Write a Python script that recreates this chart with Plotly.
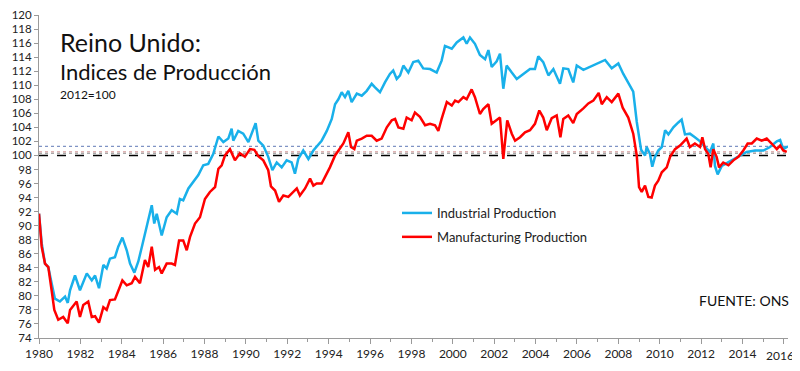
import plotly.graph_objects as go

# Industrial Production (2012=100) (decimal years)
ind_years = [1980.0, 1980.13, 1980.29, 1980.45, 1980.61, 1980.77, 1981.01, 1981.26, 1981.39, 1981.5,
             1981.74, 1981.98, 1982.31, 1982.55, 1982.71, 1982.9, 1983.11, 1983.27, 1983.43, 1983.67,
             1983.83, 1984.03, 1984.24, 1984.4, 1984.61, 1984.8, 1984.99, 1985.21, 1985.45, 1985.57,
             1985.69, 1985.93, 1986.17, 1986.41, 1986.66, 1986.81, 1986.97, 1987.22, 1987.46, 1987.7,
             1987.94, 1988.18, 1988.42, 1988.59, 1988.67, 1988.91, 1989.15, 1989.31, 1989.39, 1989.63,
             1989.87, 1990.12, 1990.31, 1990.47, 1990.6, 1990.84, 1991.08, 1991.28, 1991.49, 1991.73,
             1991.97, 1992.21, 1992.37, 1992.53, 1992.77, 1993.02, 1993.26, 1993.42, 1993.66, 1993.91,
             1994.15, 1994.31, 1994.47, 1994.63, 1994.79, 1994.95, 1995.11, 1995.36, 1995.6, 1995.84,
             1996.08, 1996.24, 1996.48, 1996.72, 1996.96, 1997.12, 1997.29, 1997.45, 1997.61, 1997.85,
             1998.09, 1998.33, 1998.57, 1998.9, 1999.22, 1999.46, 1999.62, 1999.95, 2000.19, 2000.51,
             2000.67, 2000.83, 2001.07, 2001.31, 2001.56, 2001.72, 2001.88, 2002.12, 2002.28, 2002.44,
             2002.6, 2002.85, 2003.09, 2003.41, 2003.73, 2003.97, 2004.13, 2004.37, 2004.62, 2004.86,
             2005.18, 2005.34, 2005.58, 2005.82, 2005.99, 2006.31, 2006.63, 2006.95, 2007.36, 2007.68,
             2008.0, 2008.24, 2008.56, 2008.72, 2008.89, 2009.1, 2009.29, 2009.37, 2009.53, 2009.64,
             2009.77, 2009.93, 2010.1, 2010.26, 2010.42, 2010.66, 2010.9, 2011.06, 2011.22, 2011.46,
             2011.7, 2011.95, 2012.19, 2012.43, 2012.59, 2012.67, 2012.8, 2013.0, 2013.24, 2013.56,
             2013.88, 2014.2, 2014.61, 2015.01, 2015.33, 2015.66, 2015.82, 2015.97, 2016.2]
ind_values = [91.7, 87.5, 84.6, 84.1, 81.8, 79.6, 79.2, 79.9, 79.0, 80.8,
              82.9, 80.8, 83.2, 82.2, 82.9, 81.1, 84.4, 83.9, 85.3, 85.5,
              87.0, 88.3, 86.5, 84.6, 83.3, 84.9, 87.2, 89.8, 92.9, 90.3,
              91.7, 88.6, 91.2, 92.2, 91.7, 93.8, 93.6, 95.3, 96.2, 97.2,
              98.6, 98.8, 100.2, 102.1, 102.7, 101.9, 102.4, 103.8, 102.1, 103.5,
              103.1, 101.9, 103.5, 104.6, 102.1, 101.4, 99.8, 97.9, 99.0, 98.3,
              99.3, 99.0, 97.4, 99.5, 100.7, 99.5, 100.7, 101.2, 102.1, 103.5,
              105.2, 107.3, 108.0, 109.0, 108.3, 109.2, 107.6, 108.8, 108.5, 109.2,
              110.2, 109.7, 109.0, 110.4, 111.6, 112.1, 110.9, 111.4, 112.8, 111.8,
              113.3, 113.5, 112.4, 112.3, 111.8, 113.5, 115.6, 115.2, 116.1, 116.8,
              115.9, 116.8, 115.9, 114.3, 113.7, 115.0, 112.6, 113.4, 114.5, 109.5,
              112.8, 111.8, 110.9, 111.6, 112.3, 112.3, 114.1, 113.3, 111.4, 112.3,
              110.2, 112.4, 112.3, 110.4, 112.8, 112.2, 112.6, 113.0, 113.6, 112.4,
              113.1, 111.6, 110.0, 109.1, 104.8, 100.8, 100.0, 101.2, 100.2, 98.4,
              99.8, 100.7, 101.2, 103.6, 103.0, 104.0, 104.7, 105.1, 103.0, 103.1,
              102.6, 102.0, 101.2, 100.5, 101.7, 98.5, 97.3, 98.5, 98.9, 99.4,
              100.0, 100.5, 100.7, 100.7, 101.2, 102.0, 102.2, 100.9, 101.3]

# Manufacturing Production (2012=100)
man_years = [1980.0, 1980.13, 1980.29, 1980.45, 1980.61, 1980.74, 1980.93, 1981.17, 1981.39, 1981.5,
             1981.82, 1981.98, 1982.14, 1982.38, 1982.55, 1982.71, 1982.9, 1983.11, 1983.27, 1983.43,
             1983.67, 1983.83, 1984.03, 1984.24, 1984.48, 1984.64, 1984.88, 1985.12, 1985.28, 1985.45,
             1985.61, 1985.8, 1985.93, 1986.17, 1986.41, 1986.57, 1986.77, 1986.97, 1987.14, 1987.3,
             1987.54, 1987.78, 1988.02, 1988.26, 1988.51, 1988.67, 1988.83, 1988.99, 1989.23, 1989.47,
             1989.71, 1989.95, 1990.2, 1990.41, 1990.6, 1990.84, 1991.08, 1991.21, 1991.41, 1991.6,
             1991.81, 1992.05, 1992.29, 1992.46, 1992.61, 1992.86, 1993.1, 1993.26, 1993.42, 1993.66,
             1993.82, 1994.06, 1994.31, 1994.47, 1994.71, 1994.95, 1995.08, 1995.24, 1995.36, 1995.6,
             1995.84, 1996.08, 1996.32, 1996.56, 1996.81, 1997.05, 1997.21, 1997.37, 1997.61, 1997.77,
             1998.01, 1998.17, 1998.41, 1998.66, 1998.9, 1999.14, 1999.3, 1999.46, 1999.71, 1999.95,
             2000.11, 2000.27, 2000.51, 2000.67, 2000.91, 2001.07, 2001.31, 2001.47, 2001.72, 2001.88,
             2002.12, 2002.28, 2002.44, 2002.63, 2002.85, 2003.01, 2003.25, 2003.49, 2003.73, 2003.97,
             2004.18, 2004.37, 2004.54, 2004.78, 2005.02, 2005.2, 2005.34, 2005.58, 2005.82, 2005.99,
             2006.31, 2006.55, 2006.79, 2007.05, 2007.2, 2007.44, 2007.68, 2008.0, 2008.21, 2008.48,
             2008.72, 2008.89, 2009.0, 2009.13, 2009.29, 2009.45, 2009.61, 2009.77, 2009.93, 2010.1,
             2010.34, 2010.5, 2010.74, 2010.98, 2011.14, 2011.3, 2011.46, 2011.7, 2011.95, 2012.06,
             2012.19, 2012.35, 2012.46, 2012.59, 2012.75, 2012.87, 2013.07, 2013.32, 2013.56, 2013.8,
             2014.04, 2014.25, 2014.45, 2014.69, 2014.93, 2015.17, 2015.41, 2015.66, 2015.82, 2015.97,
             2016.14]
man_values = [91.7, 87.0, 84.6, 84.1, 80.8, 78.0, 76.6, 77.0, 76.1, 78.0,
              79.2, 77.0, 78.7, 79.2, 77.0, 77.1, 76.2, 78.4, 78.0, 79.4,
              79.5, 80.6, 82.2, 81.5, 81.8, 82.7, 81.8, 85.1, 84.1, 87.0,
              83.7, 84.1, 83.2, 84.6, 84.6, 84.4, 87.9, 87.9, 86.5, 88.4,
              90.3, 91.2, 93.8, 94.8, 95.5, 98.1, 98.6, 100.0, 100.9, 99.3,
              100.3, 99.8, 100.9, 100.8, 99.9, 99.3, 97.9, 95.6, 95.0, 93.4,
              94.3, 94.1, 94.8, 95.3, 94.3, 95.3, 96.7, 95.7, 96.0, 96.0,
              96.9, 98.3, 100.0, 100.7, 101.7, 103.3, 101.2, 100.9, 102.1, 102.4,
              102.8, 102.8, 102.1, 102.4, 104.0, 105.0, 105.2, 104.0, 103.8, 105.4,
              105.0, 106.1, 105.5, 104.3, 104.5, 104.3, 103.5, 105.2, 107.6, 107.1,
              107.8, 107.6, 108.3, 108.0, 109.4, 108.3, 105.9, 106.6, 107.3, 104.5,
              105.0, 105.4, 99.5, 105.0, 103.1, 102.1, 102.6, 103.3, 103.6, 104.5,
              106.4, 105.4, 103.6, 105.3, 105.7, 102.6, 105.2, 105.7, 104.6, 105.9,
              106.7, 107.4, 107.8, 108.9, 107.3, 108.3, 107.6, 108.8, 106.8, 105.4,
              103.1, 100.0, 95.5, 94.8, 95.7, 94.1, 94.0, 95.7, 96.4, 97.6,
              98.3, 99.8, 100.9, 101.4, 101.9, 102.4, 101.2, 101.7, 101.2, 102.6,
              100.9, 100.2, 98.3, 100.9, 99.8, 98.3, 99.0, 98.6, 99.3, 99.8,
              100.7, 101.7, 101.7, 102.4, 102.1, 102.4, 101.7, 100.9, 101.4, 100.7,
              100.5]

# Horizontal reference levels
ref_base = 100.0
ref_ind_level = 101.3
ref_man_level = 100.5
ref_gray_level = 100.3

x_ticks = list(range(1980, 2017, 2))
x_ticklabels = [str(y) for y in x_ticks]
last_tick_label = x_ticklabels[-1]
# the last label sits at the page edge; it is drawn as a right-aligned text instead
x_ticktext = x_ticklabels[:-1] + [""]
y_ticks = list(range(74, 121, 2))

FONT = "Lato"
BLUE = "#19b0ea"
RED = "#ff0000"

# The page body adds an 8px offset; figure geometry is expressed in figure pixels.
OFF = 8
FIG_W, FIG_H = 800 - OFF, 371 - OFF
L, T, W, H = 39 - OFF, 15 - OFF, 749, 323


def px(xw):
    # window x pixel -> paper x
    return (xw - OFF - L) / W


def py(yw):
    # window y pixel -> paper y
    return (T + H - (yw - OFF)) / H


fig = go.Figure()

fig.add_trace(go.Scatter(x=ind_years, y=ind_values, mode="lines", name="Industrial Production",
                         line=dict(color=BLUE, width=2.5), legendgroup="a"))
fig.add_trace(go.Scatter(x=man_years, y=man_values, mode="lines", name="Manufacturing Production",
                         line=dict(color=RED, width=2.5), legendgroup="b"))

fig.add_hline(y=ref_ind_level, line=dict(color="#7f93c4", width=1.2, dash="dot"), layer="below")
fig.add_hline(y=ref_man_level, line=dict(color="#d49b9b", width=1.2, dash="dot"), layer="below")
fig.add_hline(y=ref_gray_level, line=dict(color="#a8a8a8", width=1.2, dash="dot"), layer="below")
fig.add_hline(y=ref_base, line=dict(color="#000000", width=1.5, dash="dash"), layer="below")

fig.update_layout(
    width=FIG_W, height=FIG_H,
    margin=dict(l=L, r=FIG_W - L - W, t=T, b=FIG_H - T - H, autoexpand=False),
    paper_bgcolor="white", plot_bgcolor="white",
    font=dict(family=FONT, size=13, color="#222222"),
    showlegend=True,
    legend=dict(x=px(397), y=py(198), xanchor="left", yanchor="top",
                bgcolor="rgba(0,0,0,0)", font=dict(size=13, color="#222222"),
                tracegroupgap=4, itemwidth=30),
    xaxis=dict(range=[1980, 2016.2], tickmode="array", tickvals=x_ticks, ticktext=x_ticktext,
               showgrid=False, zeroline=False, showline=True, linecolor="#9a9a9a", linewidth=1,
               ticks="outside", ticklen=5, tickcolor="#9a9a9a", automargin=False,
               ticklabeloverflow="allow",
               minor=dict(dtick=1, ticks="outside", ticklen=3, tickcolor="#9a9a9a"),
               tickfont=dict(size=12, color="#222222")),
    yaxis=dict(range=[74, 120], tickmode="array", tickvals=y_ticks,
               showgrid=False, zeroline=False, showline=True, linecolor="#9a9a9a", linewidth=1,
               ticks="outside", ticklen=4, tickcolor="#9a9a9a", automargin=False,
               ticklabeloverflow="allow",
               tickfont=dict(size=11.5, color="#222222")),
    annotations=[
        dict(text="Reino Unido:", xref="paper", yref="paper", x=px(58), y=py(42),
             xanchor="left", yanchor="middle", showarrow=False, font=dict(size=25, color="#111111")),
        dict(text="Indices de Producción", xref="paper", yref="paper", x=px(58), y=py(71),
             xanchor="left", yanchor="middle", showarrow=False, font=dict(size=22, color="#111111")),
        dict(text="2012=100", xref="paper", yref="paper", x=px(58), y=py(95),
             xanchor="left", yanchor="middle", showarrow=False, font=dict(size=12, color="#111111")),
        dict(text="FUENTE: ONS", xref="paper", yref="paper", x=px(791), y=py(300),
             xanchor="right", yanchor="middle", showarrow=False, font=dict(size=14, color="#111111")),
        dict(text=last_tick_label, xref="x", yref="paper", x=x_ticks[-1], xshift=-4, y=py(355),
             xanchor="center", yanchor="middle", showarrow=False, font=dict(size=12, color="#222222")),
    ],
)

fig.write_html("out.html")
